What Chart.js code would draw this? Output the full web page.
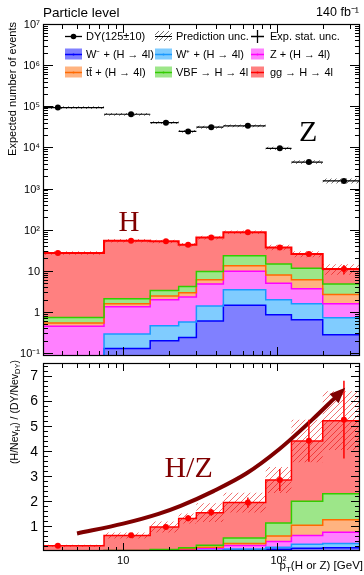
<!DOCTYPE html>
<html>
<head>
<meta charset="utf-8">
<script src="https://cdn.jsdelivr.net/npm/chart.js@4.4.1/dist/chart.umd.min.js"></script>
<style>
  html, body { margin: 0; padding: 0; background: #ffffff; }
  #wrap { position: relative; width: 364px; height: 575px; overflow: hidden; background: #fff; }
  #wrap canvas { position: absolute; left: 0; }
  #top { top: 0; }
  #bot { top: 359px; }
</style>
</head>
<body>
<div id="wrap">
  <canvas id="top" width="364" height="360"></canvas>
  <canvas id="bot" width="364" height="216"></canvas>
</div>
<script>
// ================= DATA =================
const binEdges   = [0, 7.5, 15, 23, 30, 45, 85, 125, 200, 350];
const binCenters = [3.75, 11.25, 19, 26.5, 37.5, 65, 105, 162.5, 275];

const processLabels = ['W\u207B + (H \u2192 4l)', 'W\u207A + (H \u2192 4l)', 'Z + (H \u2192 4l)',
                       'tt\u0304 + (H \u2192 4l)', 'VBF \u2192 H \u2192 4l', 'gg \u2192 H \u2192 4l'];
const dyLabel   = 'DY(125\u00B110)';
const uncLabel  = 'Prediction unc.';
const statLabel = 'Exp. stat. unc.';

// top panel: expected number of events per process (stack order bottom -> top)
const evWminus = [0.02, 0.13, 0.20, 0.24, 0.60, 1.45, 0.86, 0.65, 0.28];
const evWplus  = [0.04, 0.16, 0.26, 0.33, 0.80, 2.00, 1.12, 0.93, 0.44];
const evZH     = [0.39, 1.04, 1.52, 1.73, 3.40, 6.25, 3.02, 2.07, 0.86];
const evTTH    = [0.09, 0.26, 0.45, 0.62, 1.30, 3.60, 2.90, 2.45, 1.08];
const evVBF    = [0.19, 0.51, 0.91, 1.24, 3.50, 9.90, 6.70, 5.40, 2.14];
const evGGF    = [26.5, 51.6, 48.7, 38.8, 54.9, 63.8, 22.4, 14.2, 6.2];
const evHUncLow  = [24.5, 48.5, 47, 39, 58, 78, 31.5, 21.5, 8.0];
const evHUncHigh = [30, 59, 57, 47.5, 71, 96, 43, 30, 14.5];
const evHStatErr = [1.5, 2.5, 2.5, 2.5, 3, 4, 3, 2.5, 2.8];
const evDY        = [93000, 64000, 40000, 24500, 31000, 33500, 9500, 4400, 1530];
const evDYUncLow  = [86000, 59000, 37000, 22600, 28600, 31000, 8600, 3950, 1330];
const evDYUncHigh = [100000, 69000, 43000, 26400, 33400, 36000, 10400, 4850, 1750];

// bottom panel: (H/Nev_H)/(DY/Nev_DY) per process
const rWminus = [0.0002, 0.0015, 0.0036, 0.007, 0.014, 0.032, 0.066, 0.11, 0.13];
const rWplus  = [0.0003, 0.0018, 0.005, 0.010, 0.019, 0.045, 0.084, 0.16, 0.17];
const rZH     = [0.003, 0.012, 0.028, 0.052, 0.081, 0.138, 0.23, 0.35, 0.45];
const rTTH    = [0.0007, 0.003, 0.008, 0.019, 0.031, 0.08, 0.22, 0.41, 0.50];
const rVBF    = [0.0014, 0.006, 0.017, 0.038, 0.083, 0.22, 0.52, 0.95, 1.03];
const rGGF    = [0.204, 0.596, 0.898, 1.174, 1.302, 1.415, 1.71, 2.41, 2.92];
const rPoints  = [0.21, 0.63, 0.96, 1.31, 1.55, 1.93, 2.83, 4.40, 5.24];
const rStatErr = [0.03, 0.05, 0.08, 0.12, 0.14, 0.20, 0.44, 0.84, 1.55];
const rUncLow  = [0.17, 0.50, 0.74, 1.10, 1.16, 1.54, 2.31, 3.54, 4.03];
const rUncHigh = [0.25, 0.74, 1.18, 1.50, 1.90, 2.32, 3.35, 5.24, 6.37];

// trend arrow (pT, ratio)
const arrowX = [5, 10, 17, 23.7, 38.8, 63.8, 104.5, 171, 241];
const arrowY = [0.70, 1.09, 1.48, 1.80, 2.39, 3.10, 4.07, 5.24, 6.12];

// axes
const xMajorTicks = [10, 100];
const xTickLabels = ['10', '10\u00B2'];
const xMinorTicks = [3, 4, 5, 6, 7, 8, 9, 20, 30, 40, 50, 60, 70, 80, 90, 200, 300];
const yTopTicks  = [0.1, 1, 10, 100, 1e3, 1e4, 1e5, 1e6, 1e7];
const yTopLabels = ['10\u207B\u00B9', '1', '10', '10\u00B2', '10\u00B3', '10\u2074', '10\u2075', '10\u2076', '10\u2077'];
const yBotTicks  = [1, 2, 3, 4, 5, 6, 7];
const yBotLabels = ['1', '2', '3', '4', '5', '6', '7'];

// ================= STYLE =================
const X_MIN = 3, X_MAX = 350;
const SANS = '"Liberation Sans", Arial, Helvetica, sans-serif';
const SERIF = '"Liberation Serif", "Times New Roman", serif';
const stackFill = ['#8080ff', '#80ccff', '#ff80ff', '#ffb380', '#9de689', '#ff8080'];
const stackLine = ['#0000ff', '#1a99ff', '#ff00ff', '#ff6a00', '#33cc00', '#ff0000'];
const DARKRED = '#800000';

function makeHatch(color, size) {
  const c = document.createElement('canvas');
  c.width = size; c.height = size;
  const g = c.getContext('2d');
  g.strokeStyle = color; g.lineWidth = 1;
  g.beginPath();
  g.moveTo(0, size); g.lineTo(size, 0);
  g.moveTo(-size, size); g.lineTo(size, -size);
  g.moveTo(0, 2 * size); g.lineTo(2 * size, 0);
  g.stroke();
  return g.createPattern(c, 'repeat');
}
const redHatch = makeHatch('rgba(230,0,0,0.55)', 6);
const blackHatch = makeHatch('rgba(0,0,0,0.55)', 5);

// ================= HELPERS =================
function stepData(vals) {
  const pts = vals.map((v, i) => ({ x: Math.max(binEdges[i], X_MIN), y: v }));
  pts.push({ x: binEdges[vals.length], y: vals[vals.length - 1] });
  return pts;
}
function cumulate(list) {
  let acc = list[0].map(() => 0);
  return list.map(arr => (acc = acc.map((a, i) => a + arr[i])));
}
function hBars(vals) {
  const pts = [];
  vals.forEach((v, i) => {
    pts.push({ x: Math.max(binEdges[i], X_MIN), y: v }, { x: binEdges[i + 1], y: v }, { x: binEdges[i + 1], y: null });
  });
  return pts;
}
function vBars(vals, errs) {
  const pts = [];
  vals.forEach((v, i) => {
    pts.push({ x: binCenters[i], y: v - errs[i] }, { x: binCenters[i], y: v + errs[i] }, { x: binCenters[i], y: null });
  });
  return pts;
}
function markers(vals) { return vals.map((v, i) => ({ x: binCenters[i], y: v })); }

function stackDatasets(cum, lw, topLw) {
  return cum.map((vals, k) => ({
    data: stepData(vals), stepped: 'before',
    borderColor: stackLine[k], borderWidth: k === 5 ? topLw : lw,
    backgroundColor: stackFill[k],
    fill: k === 0 ? 'origin' : { target: k - 1 },
    pointRadius: 0
  }));
}
function bandDatasets(lo, hi, pattern, loIndex) {
  return [
    { data: stepData(lo), stepped: 'before', borderWidth: 0, borderColor: 'rgba(0,0,0,0)', pointRadius: 0, fill: false },
    { data: stepData(hi), stepped: 'before', borderWidth: 0, borderColor: 'rgba(0,0,0,0)', pointRadius: 0,
      backgroundColor: pattern, fill: { target: loIndex } }
  ];
}
function withOrder(ds) { ds.forEach((d, i) => { d.order = 1000 - i; }); return ds; }

function drawFrame(chart, s) {
  const { ctx, chartArea: a } = chart;
  const xs = chart.scales.x, ys = chart.scales.y;
  ctx.save();
  ctx.strokeStyle = '#000'; ctx.lineWidth = 1;
  ctx.beginPath();
  const seg = (x1, y1, x2, y2) => { ctx.moveTo(x1, y1); ctx.lineTo(x2, y2); };
  const px = v => Math.round(xs.getPixelForValue(v)) + 0.5;
  const py = v => Math.round(ys.getPixelForValue(v)) + 0.5;
  for (const v of xMinorTicks) { const p = px(v); seg(p, a.top, p, a.top + s.xt[1]); seg(p, a.bottom, p, a.bottom - s.xb[1]); }
  for (const v of xMajorTicks) { const p = px(v); seg(p, a.top, p, a.top + s.xt[0]); seg(p, a.bottom, p, a.bottom - s.xb[0]); }
  for (const v of s.yMinor) { const p = py(v); if (p < a.top || p > a.bottom) continue; seg(a.left, p, a.left + s.y[1], p); seg(a.right, p, a.right - s.y[1], p); }
  for (const v of s.yMajor) { const p = py(v); if (p < a.top || p > a.bottom) continue; seg(a.left, p, a.left + s.y[0], p); seg(a.right, p, a.right - s.y[0], p); }
  ctx.stroke();
  ctx.lineWidth = 1.2;
  ctx.strokeRect(Math.round(a.left) + 0.5, Math.round(a.top) + 0.5, Math.round(a.right - a.left) - 1, Math.round(a.bottom - a.top) - 1);
  ctx.restore();
}
function drawRich(ctx, parts, x, y, align) {
  let total = 0;
  for (const p of parts) { ctx.font = p[1] + 'px ' + SANS; total += ctx.measureText(p[0]).width; }
  let cx = align === 'right' ? x - total : x;
  ctx.textAlign = 'left';
  for (const p of parts) { ctx.font = p[1] + 'px ' + SANS; ctx.fillText(p[0], cx, y + p[2]); cx += ctx.measureText(p[0]).width; }
}

// ================= TOP CHART =================
const cumTop = cumulate([evWminus, evWplus, evZH, evTTH, evVBF, evGGF]);
const evHTotal = cumTop[5];
const topDatasets = withOrder([
  ...stackDatasets(cumTop, 1.5, 2),
  ...bandDatasets(evHUncLow, evHUncHigh, redHatch, 6),
  ...bandDatasets(evDYUncLow, evDYUncHigh, blackHatch, 8),
  { data: hBars(evDY), borderColor: '#000', borderWidth: 1.2, pointRadius: 0, fill: false, spanGaps: false },
  { data: markers(evDY), showLine: false, pointRadius: 3, pointBackgroundColor: '#000', pointBorderColor: '#000', pointBorderWidth: 0, fill: false },
  { data: vBars(evHTotal, evHStatErr), borderColor: '#ff0000', borderWidth: 1.5, pointRadius: 0, fill: false, spanGaps: false },
  { data: markers(evHTotal), showLine: false, pointRadius: 3, pointBackgroundColor: '#ff0000', pointBorderColor: '#ff0000', pointBorderWidth: 0, fill: false }
]);

const yTopMinor = [];
for (let d = -2; d <= 6; d++) for (let m = 2; m <= 9; m++) yTopMinor.push(m * Math.pow(10, d));

const topPlugin = {
  id: 'topDecor',
  afterDraw(chart) {
    const { ctx } = chart;
    const xs = chart.scales.x, ys = chart.scales.y;
    drawFrame(chart, { xt: [9, 5], xb: [9, 5], y: [10, 5], yMajor: yTopTicks, yMinor: yTopMinor });
    ctx.save();
    ctx.fillStyle = '#000';
    ctx.font = '11px ' + SANS; ctx.textAlign = 'right'; ctx.textBaseline = 'middle';
    yTopTicks.forEach((v, i) => ctx.fillText(yTopLabels[i], 40, ys.getPixelForValue(v) + 1));
    ctx.save();
    ctx.translate(13, 22); ctx.rotate(-Math.PI / 2);
    ctx.font = '11px ' + SANS; ctx.textAlign = 'right'; ctx.textBaseline = 'middle';
    ctx.fillText('Expected number of events', 0, 0);
    ctx.restore();
    ctx.textBaseline = 'middle';
    ctx.font = '13.5px ' + SANS; ctx.textAlign = 'left';
    ctx.fillText('Particle level', 43, 13);
    ctx.font = '12.5px ' + SANS; ctx.textAlign = 'right';
    ctx.fillText('140 fb\u207B\u00B9', 359, 13);
    const colX = [65, 155, 251], colW = [17, 17, 13], txtX = [86, 176, 270], rowY = [36, 54, 72];
    const items = [
      { t: 'dy', text: dyLabel, c: 0, r: 0 }, { t: 'hatch', text: uncLabel, c: 1, r: 0 }, { t: 'cross', text: statLabel, c: 2, r: 0 },
      { t: 'box', k: 0, c: 0, r: 1 }, { t: 'box', k: 1, c: 1, r: 1 }, { t: 'box', k: 2, c: 2, r: 1 },
      { t: 'box', k: 3, c: 0, r: 2 }, { t: 'box', k: 4, c: 1, r: 2 }, { t: 'box', k: 5, c: 2, r: 2 }
    ];
    for (const it of items) {
      const x0 = colX[it.c], w = colW[it.c], y = rowY[it.r];
      if (it.t === 'dy') {
        ctx.strokeStyle = '#000'; ctx.lineWidth = 1.3;
        ctx.beginPath(); ctx.moveTo(x0, y + 0.5); ctx.lineTo(x0 + w, y + 0.5); ctx.stroke();
        ctx.fillStyle = '#000'; ctx.beginPath(); ctx.arc(x0 + w / 2, y + 0.5, 2.8, 0, Math.PI * 2); ctx.fill();
      } else if (it.t === 'hatch') {
        ctx.fillStyle = blackHatch; ctx.fillRect(x0, y - 5, w, 10);
        ctx.strokeStyle = '#000'; ctx.lineWidth = 1;
        ctx.beginPath(); ctx.moveTo(x0, y + 0.5); ctx.lineTo(x0 + w, y + 0.5); ctx.stroke();
      } else if (it.t === 'cross') {
        ctx.strokeStyle = '#000'; ctx.lineWidth = 1.3;
        ctx.beginPath(); ctx.moveTo(x0, y + 0.5); ctx.lineTo(x0 + w, y + 0.5);
        ctx.moveTo(x0 + w / 2, y - 6); ctx.lineTo(x0 + w / 2, y + 7); ctx.stroke();
      } else {
        ctx.fillStyle = stackFill[it.k]; ctx.fillRect(x0, y - 5.5, w, 11);
        ctx.strokeStyle = stackLine[it.k]; ctx.lineWidth = 1.5;
        ctx.beginPath(); ctx.moveTo(x0, y + 0.5); ctx.lineTo(x0 + w, y + 0.5); ctx.stroke();
        ctx.fillStyle = stackLine[it.k]; ctx.beginPath(); ctx.arc(x0 + w / 2, y + 0.5, 1, 0, Math.PI * 2); ctx.fill();
      }
      ctx.fillStyle = '#000'; ctx.font = '11px ' + SANS; ctx.textAlign = 'left'; ctx.textBaseline = 'middle';
      ctx.fillText(it.t === 'box' ? processLabels[it.k] : it.text, txtX[it.c], y + 1);
    }
    ctx.textAlign = 'center'; ctx.textBaseline = 'middle';
    ctx.font = '29px ' + SERIF; ctx.fillStyle = DARKRED;
    ctx.fillText('H', xs.getPixelForValue(10.9), ys.getPixelForValue(140));
    ctx.font = '30px ' + SERIF; ctx.fillStyle = '#000';
    ctx.fillText('Z', xs.getPixelForValue(161), ys.getPixelForValue(22500));
    ctx.restore();
  }
};

new Chart(document.getElementById('top'), {
  type: 'line',
  data: { datasets: topDatasets },
  options: {
    responsive: false, animation: false, devicePixelRatio: 1,
    layout: { padding: { left: 43, right: 1, top: 24, bottom: 1 } },
    plugins: { legend: { display: false }, tooltip: { enabled: false }, filler: { drawTime: 'beforeDatasetsDraw' } },
    scales: {
      x: { type: 'logarithmic', min: X_MIN, max: X_MAX, display: false },
      y: { type: 'logarithmic', min: 0.085, max: 1e7, display: false }
    }
  },
  plugins: [topPlugin]
});

// ================= BOTTOM CHART =================
const cumBot = cumulate([rWminus, rWplus, rZH, rTTH, rVBF, rGGF]);
const botDatasets = withOrder([
  ...stackDatasets(cumBot, 1.5, 1.5),
  ...bandDatasets(rUncLow, rUncHigh, redHatch, 6),
  { data: arrowX.map((x, i) => ({ x, y: arrowY[i] })), borderColor: DARKRED, borderWidth: 4, tension: 0.4,
    cubicInterpolationMode: 'monotone', pointRadius: 0, fill: false },
  { data: vBars(rPoints, rStatErr), borderColor: '#ff0000', borderWidth: 1.5, pointRadius: 0, fill: false, spanGaps: false },
  { data: markers(rPoints), showLine: false, pointRadius: 3, pointBackgroundColor: '#ff0000', pointBorderColor: '#ff0000', pointBorderWidth: 0, fill: false }
]);
const ARROW_INDEX = 8;
const yBotMinor = [];
for (let v = 0.2; v < 7.5; v += 0.2) { const r = Math.round(v * 10) / 10; if (Math.abs(r - Math.round(r)) > 1e-6) yBotMinor.push(r); }

const botPlugin = {
  id: 'botDecor',
  afterDatasetsDraw(chart) {
    const { ctx } = chart;
    const meta = chart.getDatasetMeta(ARROW_INDEX);
    const pts = meta.data;
    const last = pts[pts.length - 1];
    let dx = last.x - (last.cp1x ?? pts[pts.length - 2].x), dy = last.y - (last.cp1y ?? pts[pts.length - 2].y);
    const L = Math.hypot(dx, dy) || 1; dx /= L; dy /= L;
    const len = 14, hw = 6.5;
    const tipX = last.x + dx * len, tipY = last.y + dy * len;
    const bx = last.x - dx * 1.5, by = last.y - dy * 1.5;
    ctx.save();
    ctx.fillStyle = DARKRED;
    ctx.beginPath();
    ctx.moveTo(tipX, tipY);
    ctx.lineTo(bx - dy * hw, by + dx * hw);
    ctx.lineTo(bx + dy * hw, by - dx * hw);
    ctx.closePath(); ctx.fill();
    ctx.restore();
  },
  afterDraw(chart) {
    const { ctx } = chart;
    const xs = chart.scales.x, ys = chart.scales.y;
    drawFrame(chart, { xt: [8, 5], xb: [8, 4], y: [9, 5], yMajor: yBotTicks, yMinor: yBotMinor });
    ctx.save();
    ctx.fillStyle = '#000';
    ctx.font = '14px ' + SANS; ctx.textAlign = 'right'; ctx.textBaseline = 'middle';
    yBotTicks.forEach((v, i) => ctx.fillText(yBotLabels[i], 38, ys.getPixelForValue(v) + 1));
    ctx.font = '11px ' + SANS; ctx.textBaseline = 'middle';
    xMajorTicks.forEach((v, i) => {
      const w10 = ctx.measureText('10').width;
      ctx.textAlign = 'left';
      ctx.fillText(xTickLabels[i], xs.getPixelForValue(v) - w10 / 2, 202);
    });
    ctx.textBaseline = 'alphabetic';
    drawRich(ctx, [['p', 11.5, 0], ['T', 8, 2.5], ['(H or Z) [GeV]', 11.5, 0]], 363, 210, 'right');
    ctx.save();
    ctx.translate(15, 0); ctx.rotate(-Math.PI / 2);
    ctx.textBaseline = 'middle';
    drawRich(ctx, [['(H/Nev', 10.5, 0], ['H', 7.5, 3], [') / (DY/Nev', 10.5, 0], ['DY', 7.5, 3], [')', 10.5, 0]], -1, 0, 'right');
    ctx.restore();
    ctx.font = '30px ' + SERIF; ctx.fillStyle = DARKRED; ctx.textAlign = 'center'; ctx.textBaseline = 'middle';
    ctx.fillText('H/Z', xs.getPixelForValue(26.7), ys.getPixelForValue(3.28));
    ctx.restore();
  }
};

new Chart(document.getElementById('bot'), {
  type: 'line',
  data: { datasets: botDatasets },
  options: {
    responsive: false, animation: false, devicePixelRatio: 1,
    layout: { padding: { left: 43, right: 1, top: 0, bottom: 24 } },
    plugins: { legend: { display: false }, tooltip: { enabled: false }, filler: { drawTime: 'beforeDatasetsDraw' } },
    scales: {
      x: { type: 'logarithmic', min: X_MIN, max: X_MAX, display: false },
      y: { type: 'linear', min: 0, max: 7.5, display: false }
    }
  },
  plugins: [botPlugin]
});
</script>
</body>
</html>
